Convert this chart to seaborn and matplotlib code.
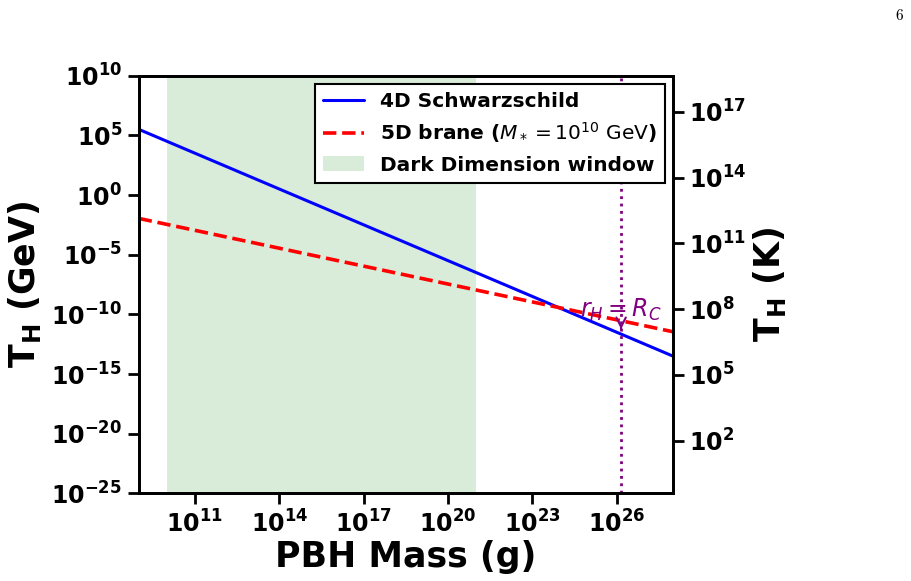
import math
import pandas as pd
import matplotlib
matplotlib.use('Agg')
import matplotlib.pyplot as plt
import matplotlib.ticker as mticker
import seaborn as sns

# values
mass_g = [1e9, 1e28]
temp_4d_gev = [3.2e5, 3.2e-14]
temp_5d_gev = [1.1e-2, 3.5e-12]
window_g = [1e10, 1e21]
r_c_mass = 1.45e26
r_c_temp = 3.3e-12
r_c_label_temp = 2.5e-10
kelvin_lim = [0.4, 4.4e18]

x_ticks = [1e11, 1e14, 1e17, 1e20, 1e23, 1e26]
y_ticks_gev = [1e-25, 1e-20, 1e-15, 1e-10, 1e-5, 1e0, 1e5, 1e10]
y_ticks_k = [1e2, 1e5, 1e8, 1e11, 1e14, 1e17]

df = pd.DataFrame({'mass': mass_g, 't4d': temp_4d_gev, 't5d': temp_5d_gev})

sns.set_style('ticks')
plt.rcParams['font.family'] = ['DejaVu Sans']
for k in ('text.color', 'axes.labelcolor', 'xtick.color', 'ytick.color', 'axes.edgecolor'):
    plt.rcParams[k] = 'black'

fig = plt.figure(figsize=(9.12, 5.81), dpi=100)
ax = fig.add_axes([0.1521, 0.1509, 0.5856, 0.7188])

ax.axvspan(window_g[0], window_g[1], color='green', alpha=0.15, lw=0,
           label='Dark Dimension window')
sns.lineplot(data=df, x='mass', y='t4d', ax=ax, color='blue', lw=2.2,
             label='4D Schwarzschild')
sns.lineplot(data=df, x='mass', y='t5d', ax=ax, color='red', lw=2.6,
             linestyle='--',
             label=r'5D brane ($M_* = 10^{10}\ \mathrm{GeV}$)')
ax.axvline(r_c_mass, color='purple', ls=':', lw=2)
ax.annotate(r'$r_H = R_C$', xy=(r_c_mass, r_c_temp),
            xytext=(r_c_mass, r_c_label_temp), ha='center', va='center',
            color='purple', fontsize=17,
            arrowprops=dict(arrowstyle='->', color='purple', lw=1.5))

ax.set_xscale('log')
ax.set_yscale('log')
ax.set_xlim(mass_g[0], mass_g[-1])
ax.set_ylim(y_ticks_gev[0], y_ticks_gev[-1])

fmt = mticker.FuncFormatter(lambda v, p: r'$\mathbf{10^{%d}}$' % round(math.log10(v)))
ax.xaxis.set_major_locator(mticker.FixedLocator(x_ticks))
ax.yaxis.set_major_locator(mticker.FixedLocator(y_ticks_gev))
ax.xaxis.set_minor_locator(mticker.NullLocator())
ax.yaxis.set_minor_locator(mticker.NullLocator())
ax.xaxis.set_major_formatter(fmt)
ax.yaxis.set_major_formatter(fmt)
ax.tick_params(labelsize=17, length=8, width=2, pad=4)

ax.set_xlabel('PBH Mass (g)', fontsize=25, fontweight='bold', labelpad=2)
ax.set_ylabel(r'$\mathbf{T_H}$ (GeV)', fontsize=25, fontweight='bold', labelpad=6)

# right axis in kelvin
ax2 = ax.twinx()
ax2.set_yscale('log')
ax2.set_ylim(kelvin_lim)
ax2.yaxis.set_major_locator(mticker.FixedLocator(y_ticks_k))
ax2.yaxis.set_minor_locator(mticker.NullLocator())
ax2.yaxis.set_major_formatter(fmt)
ax2.tick_params(labelsize=17, length=8, width=2, pad=4)
ax2.set_ylabel(r'$\mathbf{T_H}$ (K)', fontsize=25, fontweight='bold', labelpad=3)

for a in (ax, ax2):
    for s in a.spines.values():
        s.set_linewidth(2)

h, l = ax.get_legend_handles_labels()
order = [l.index('4D Schwarzschild'), l.index(r'5D brane ($M_* = 10^{10}\ \mathrm{GeV}$)'),
         l.index('Dark Dimension window')]
leg = ax.legend([h[i] for i in order], [l[i] for i in order], loc='upper right',
                prop={'size': 14.5, 'weight': 'bold'}, fancybox=False,
                framealpha=1, edgecolor='black', borderaxespad=0.4)
leg.get_frame().set_linewidth(1.5)

fig.text(900 / 912, 1 - 15 / 581, r'$6$', math_fontfamily='cm',
         fontsize=11, ha='center', va='center')

fig.savefig('out.png', dpi=100)
